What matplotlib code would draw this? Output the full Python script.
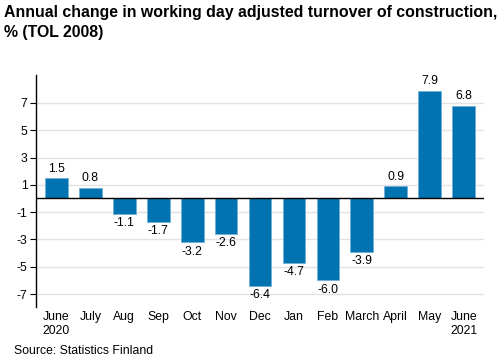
import numpy as np
import matplotlib.pyplot as plt

plt.rcParams['font.family'] = ['Liberation Sans', 'DejaVu Sans']

# Data
months = ['June\n2020', 'July', 'Aug', 'Sep', 'Oct', 'Nov', 'Dec',
          'Jan', 'Feb', 'March', 'April', 'May', 'June\n2021']
values = [1.5, 0.8, -1.1, -1.7, -3.2, -2.6, -6.4, -4.7, -6.0, -3.9, 0.9, 7.9, 6.8]
yticks = [-7, -5, -3, -1, 1, 3, 5, 7]

bar_color = '#0073b0'

fig = plt.figure(figsize=(4.99, 3.6), dpi=100)
ax = fig.add_axes([0.0721, 0.147, 0.898, 0.645])

x = np.arange(len(months))
bars = ax.bar(x, values, width=0.67, color=bar_color,
              edgecolor='#6fb0d8', linewidth=0.6, zorder=3)

for xi, v in zip(x, values):
    if v >= 0:
        ax.text(xi, v + 0.25, f'{v:.1f}', ha='center', va='bottom', fontsize=8.8)
    else:
        ax.text(xi, v - 0.25, f'{v:.1f}', ha='center', va='top', fontsize=8.8)

ax.axhline(0, color='black', linewidth=1, zorder=4)

ax.set_xlim(-0.6, len(months) - 0.4)
ax.set_ylim(-7.95, 9.05)
ax.set_yticks(yticks)
ax.set_yticklabels([str(t) if t >= 0 else '-' + str(abs(t)) for t in yticks], fontsize=8.8)
ax.set_xticks(x)
ax.set_xticklabels(months, fontsize=8.8, linespacing=1.2)
ax.tick_params(axis='x', length=0, pad=3)
ax.tick_params(axis='y', length=4, width=0.8, pad=2)

ax.grid(axis='y', color='#e3e3e3', linewidth=1, zorder=0)
for s in ['top', 'right', 'bottom']:
    ax.spines[s].set_visible(False)
ax.spines['left'].set_linewidth(1)

fig.text(0.008, 0.985, 'Annual change in working day adjusted turnover of construction,\n% (TOL 2008)',
         ha='left', va='top', fontsize=11.4, fontweight='bold', linespacing=1.4)
fig.text(0.028, 0.008, 'Source: Statistics Finland', ha='left', va='bottom', fontsize=8.8)

fig.savefig('out.png', dpi=100)
